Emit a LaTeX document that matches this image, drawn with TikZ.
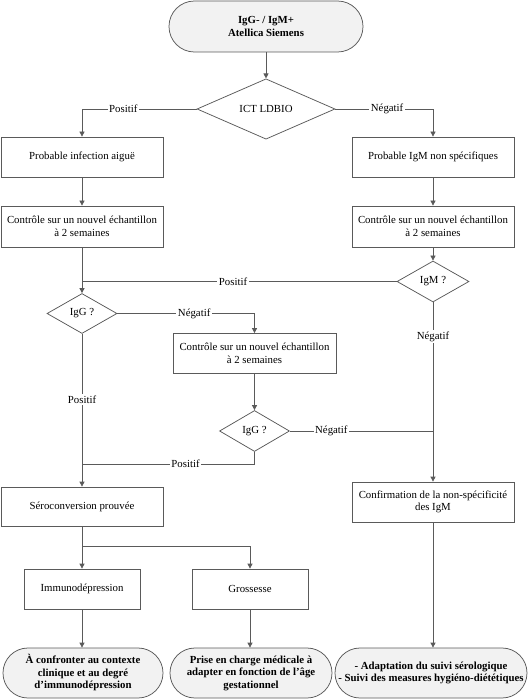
\documentclass[tikz,border=0pt]{standalone}
\usepackage{fontspec}
\setmainfont{Liberation Serif}
\usetikzlibrary{shapes.geometric,arrows.meta}
\definecolor{linec}{HTML}{5A5A5A}
\definecolor{termfill}{HTML}{F2F2F2}
\begin{document}
\begin{tikzpicture}[x=1pt,y=-1pt,
  every node/.style={font=\rmfamily\fontsize{10.8}{12.5}\selectfont, align=center, inner sep=0pt},
  procbox/.style={draw=linec, line width=0.75pt, fill=white, rectangle, minimum height=40pt},
  termbox/.style={draw=linec, line width=0.75pt, fill=termfill, rectangle, rounded corners=24.9pt, minimum height=50pt, font=\rmfamily\fontsize{10.8}{12.5}\selectfont\bfseries},
  decis/.style={draw=linec, line width=0.75pt, fill=white, diamond},
  conn/.style={draw=linec, line width=0.75pt},
  arr/.style={conn, -{Triangle[length=5pt,width=5pt]}},
  lbl/.style={fill=white, inner sep=1.5pt, text=black}
]
\useasboundingbox (0,0) rectangle (531,700);

% nodes
\node[termbox, minimum width=194pt, minimum height=51pt, rounded corners=25.4pt] (top) at (266,26.5) {IgG- / IgM+\\Atellica Siemens};
\node[decis, minimum width=138pt, minimum height=56pt] (ict) at (266,109) {ICT LDBIO};

\node[procbox, minimum width=162pt] (b1) at (82,157) {Probable infection aiguë};
\node[procbox, minimum width=162pt] (b2) at (433,157) {Probable IgM non spécifiques};

\node[procbox, minimum width=162pt, minimum height=41pt] (c1) at (82,226.5) {Contrôle sur un nouvel échantillon\\à 2 semaines};
\node[procbox, minimum width=162pt, minimum height=41pt] (c2) at (433,226.5) {Contrôle sur un nouvel échantillon\\à 2 semaines};

\node[decis, minimum width=72pt, minimum height=41pt] (igm) at (433,281.5) {IgM ?};
\node[decis, minimum width=70pt, minimum height=40pt] (g1) at (82,313.5) {IgG ?};

\node[procbox, minimum width=163pt] (c3) at (254.5,353.5) {Contrôle sur un nouvel échantillon\\à 2 semaines};
\node[decis, minimum width=70pt, minimum height=41pt] (g2) at (254.5,431) {IgG ?};

\node[procbox, minimum width=162pt, minimum height=39pt] (sero) at (82,506.5) {Séroconversion prouvée};
\node[procbox, minimum width=162pt] (conf) at (433,502) {Confirmation de la non-spécificité\\des IgM};

\node[procbox, minimum width=116pt] (imm) at (82,589) {Immunodépression};
\node[procbox, minimum width=116pt] (gro) at (250,589) {Grossesse};

\node[termbox, minimum width=160pt] (t1) at (83,673) {À confronter au contexte\\clinique et au degré\\d’immunodépression};
\node[termbox, minimum width=162pt] (t2) at (251,673) {Prise en charge médicale à\\adapter en fonction de l’âge\\gestationnel};
\node[termbox, minimum width=192pt] (t3) at (431,673) {- Adaptation du suivi sérologique\\- Suivi des measures hygiéno-diététiques};

\coordinate (j1) at (82,281.5);
\coordinate (j2) at (82,464);
\coordinate (br) at (82,546);

% connectors
\draw[arr] (top) -- (ict);
\draw[arr] (ict.west) -| node[lbl, pos=0.32] {Positif} (b1.north);
\draw[arr] (ict.east) -| node[lbl, pos=0.265] {Négatif} (b2.north);
\draw[arr] (b1) -- (c1);
\draw[arr] (b2) -- (c2);
\draw[arr] (c2) -- (igm);
\draw[arr] (c1) -- (g1);
\draw[conn] (igm.west) -- node[lbl, pos=0.52] {Positif} (j1);
\draw[arr] (g1.east) -| node[lbl, pos=0.28] {Négatif} (c3.north);
\draw[arr] (c3) -- (g2);
\draw[conn] (g2.east) -- node[lbl, pos=0.29] {Négatif} (g2.east -| conf.north);
\draw[arr] (igm.south) -- node[lbl, pos=0.19] {Négatif} (conf.north);
\draw[arr] (g1.south) -- node[lbl, pos=0.43] {Positif} (sero.north);
\draw[conn] (g2.south) |- node[lbl, pos=0.70] {Positif} (j2);
\draw[arr] (sero.south) -- (imm.north);
\draw[arr] (br) -| (gro.north);
\draw[arr] (imm) -- (t1.north -| imm.south);
\draw[arr] (gro) -- (gro.south |- t2.north);
\draw[arr] (conf) -- (conf.south |- t3.north);
\end{tikzpicture}
\end{document}
